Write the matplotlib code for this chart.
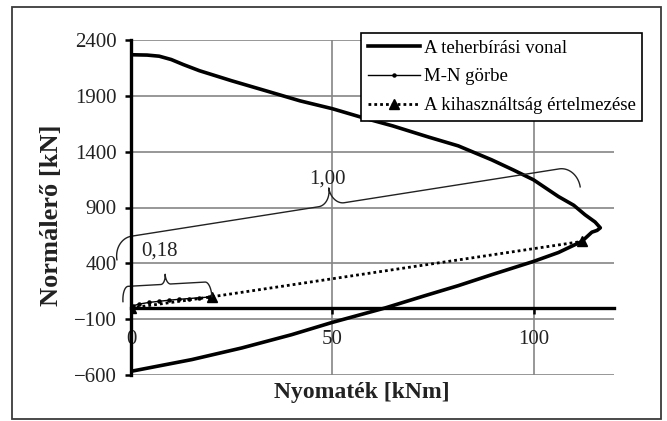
import numpy as np
import matplotlib
matplotlib.use('Agg')
import matplotlib.pyplot as plt
from matplotlib.patches import Rectangle

plt.rcParams['font.family'] = ['Liberation Serif', 'DejaVu Serif']

# teherbírási vonal: felső ág -> csúcs -> alsó ág (M [kNm], N [kN])
cap_m = [0, 4, 7, 10, 13, 17, 25, 34, 42, 50, 58, 65, 74, 81.3, 89.6, 95, 100,
         106.2, 110, 112.8, 115.3, 116.6, 115.8, 114.5, 112, 106.2, 100, 89.6,
         81.3, 73, 63.1, 50, 39.9, 27.5, 15.1, 0]
cap_n = [2268, 2265, 2255, 2225, 2180, 2125, 2035, 1940, 1855, 1785, 1700, 1631,
         1530, 1452, 1327, 1236, 1148, 998, 920, 835, 770, 718, 695, 679, 596,
         497, 417, 298, 200, 110, 0, -129, -239, -358, -462, -567]

# M-N görbe
mn_m = [0, 0.5, 2, 4.5, 7, 9.5, 12, 14.5, 17, 19.5, 20]
mn_n = [0, 20, 35, 50, 60, 70, 78, 85, 92, 98, 100]

# kihasználtság értelmezése
ki_m = [0, 20, 112]
ki_n = [0, 100, 596]

# kapcsos zárójelek végpontjai és feliratai
brace_big = [(-3.5, 432), (111.6, 1085)]
brace_small = [(-2.0, 57), (20.1, 101)]
label_big = (48.8, 1157, '1,00')
label_small = (7.2, 508, '0,18')

x_ticks = [0, 50, 100]
y_ticks = [-600, -100, 400, 900, 1400, 1900, 2400]

fig = plt.figure(figsize=(6.67, 4.21), dpi=100)
ax = fig.add_axes([131 / 667, 1 - 375 / 421, 483 / 667, 335 / 421])

ax.plot(cap_m, cap_n, color='black', lw=2.6, solid_joinstyle='round',
        label='A teherbírási vonal', zorder=3)
ax.plot(mn_m, mn_n, color='black', lw=1.0, marker='o', ms=2.2,
        label='M-N görbe', zorder=4)
ax.plot(ki_m, ki_n, color='black', lw=2.0, ls=(0, (1, 1.1)), marker='^', ms=7,
        label='A kihasználtság értelmezése', zorder=4)

ax.set_xlim(0, 120)
ax.set_ylim(-600, 2400)
ax.set_xticks(x_ticks)
ax.set_yticks(y_ticks)
ax.grid(True, color='#858585', lw=1.2)
ax.set_axisbelow(True)

for s in ['top', 'right']:
    ax.spines[s].set_visible(False)
ax.spines['left'].set_linewidth(2.4)
ax.spines['bottom'].set_linewidth(2.4)
ax.spines['bottom'].set_position(('data', 0))
ax.spines['left'].set_zorder(5)
ax.spines['bottom'].set_zorder(5)

ax.tick_params(axis='x', direction='out', length=4, width=1.8, labelsize=15,
               pad=12, labelcolor='#222222')
ax.tick_params(axis='y', direction='out', length=4.5, width=1.8, labelsize=15,
               pad=6, labelcolor='#222222')

ax.set_xlabel('Nyomaték [kNm]', fontsize=17, fontweight='bold', color='#222222')
ax.xaxis.set_label_coords(0.478, -0.053)
ax.xaxis.label.set_va('center')
ax.set_ylabel('Normálerő [kN]', fontsize=19, fontweight='bold', color='#222222')
ax.yaxis.set_label_coords(-0.164, 0.478)
ax.yaxis.label.set_va('center')


def brace(p0, p1, h, c, f, r, r2):
    # kapcsos zárójel képpontokban, majd vissza adat-koordinátákba
    a, b = ax.transData.transform([p0, p1])
    d = b - a
    L = np.hypot(*d)
    d = d / L
    n = np.array([-d[1], d[0]])
    t = np.linspace(0, np.pi / 2, 25)

    def half(length):
        u = np.concatenate([r * (1 - np.cos(t)), length - r2 + r2 * np.sin(t)])
        v = np.concatenate([h * np.sin(t), h + c * (1 - np.cos(t))])
        return u, v

    ul, vl = half(f * L)
    ur, vr = half((1 - f) * L)
    u = np.concatenate([ul, (L - ur)[::-1]])
    v = np.concatenate([vl, vr[::-1]])
    pts = a + u[:, None] * d + v[:, None] * n
    pts = ax.transData.inverted().transform(pts)
    ax.plot(pts[:, 0], pts[:, 1], color='#222222', lw=1.0, clip_on=False, zorder=4)


brace(*brace_big, h=21, c=17, f=0.47, r=18, r2=13)
brace(*brace_small, h=15, c=10, f=0.49, r=6, r2=5)

for x, y, s in [label_big, label_small]:
    ax.text(x, y, s, fontsize=15, ha='center', va='center', color='#222222', zorder=5)

leg = ax.legend(loc='upper left', bbox_to_anchor=(361 / 667, 1 - 33 / 421),
                bbox_transform=fig.transFigure, fontsize=13.5, frameon=True,
                fancybox=False, framealpha=1, edgecolor='black', handlelength=2.8,
                handletextpad=0.2, labelspacing=0.62, borderpad=0.35, borderaxespad=0)
leg.get_frame().set_linewidth(1.2)
leg.set_zorder(10)

fig.patches.append(Rectangle((12 / 667, 1 - 419 / 421), 649 / 667, 412 / 421,
                             transform=fig.transFigure, fill=False,
                             ec='#3a3a3a', lw=1.3))

fig.savefig('out.png', dpi=100)
